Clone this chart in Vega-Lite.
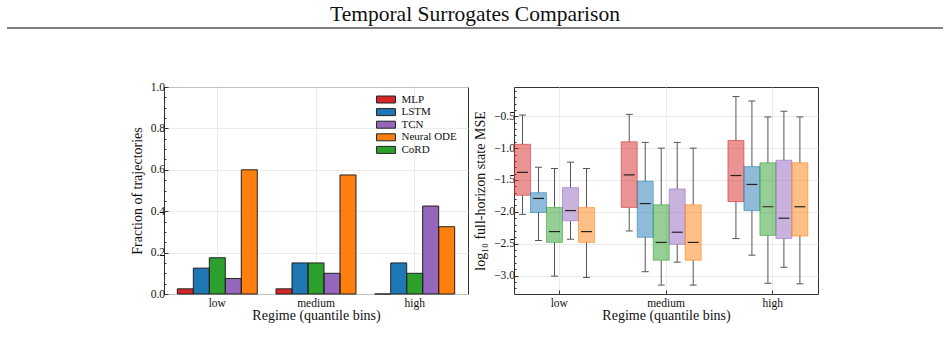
{
  "$schema": "https://vega.github.io/schema/vega-lite/v6.json",
  "background": "white",
  "padding": {"left": 6, "right": 6, "top": 3, "bottom": 5},
  "title": {
    "text": "Temporal Surrogates Comparison",
    "font": "Liberation Serif, serif",
    "fontSize": 21.5,
    "fontWeight": "normal",
    "color": "#111111",
    "anchor": "middle",
    "offset": 2
  },
  "config": {
    "font": "Liberation Serif, serif",
    "view": {"stroke": "#333333", "strokeWidth": 1},
    "axis": {
      "labelFont": "Liberation Serif, serif",
      "titleFont": "Liberation Serif, serif",
      "labelFontSize": 11.5,
      "titleFontSize": 14,
      "titleFontWeight": "normal",
      "labelColor": "#111111",
      "titleColor": "#111111",
      "domain": false,
      "tickSize": -4,
      "tickColor": "#333333",
      "gridColor": "#e6e6e6",
      "gridWidth": 0.8,
      "labelPadding": 3.5,
      "titlePadding": 6
    },
    "axisX": {"labelPadding": 7, "titlePadding": 0},
    "legend": {
      "labelFont": "Liberation Serif, serif",
      "labelFontSize": 11,
      "labelColor": "#111111"
    }
  },
  "spacing": 51,
  "vconcat": [
    {
      "width": 936,
      "height": 1,
      "data": {"values": [{}]},
      "view": {"stroke": null},
      "mark": {"type": "rule", "color": "#000000", "strokeWidth": 1.2},
      "encoding": {
        "y": {"datum": 0, "type": "quantitative", "scale": {"domain": [0, 1]}, "axis": null}
      }
    },
    {
      "spacing": 4,
      "hconcat": [
        {
          "width": 118,
          "height": 207,
          "data": {"values": []},
          "view": {"stroke": null},
          "mark": "point"
        },
        {
          "width": 304,
          "height": 207,
          "data": {
            "values": [
              {"regime": "low", "model": "MLP", "fraction": 0.025},
              {"regime": "low", "model": "LSTM", "fraction": 0.125},
              {"regime": "low", "model": "CoRD", "fraction": 0.175},
              {"regime": "low", "model": "TCN", "fraction": 0.075},
              {"regime": "low", "model": "Neural ODE", "fraction": 0.6},
              {"regime": "medium", "model": "MLP", "fraction": 0.025},
              {"regime": "medium", "model": "LSTM", "fraction": 0.15},
              {"regime": "medium", "model": "CoRD", "fraction": 0.15},
              {"regime": "medium", "model": "TCN", "fraction": 0.1},
              {"regime": "medium", "model": "Neural ODE", "fraction": 0.575},
              {"regime": "high", "model": "MLP", "fraction": 0.0},
              {"regime": "high", "model": "LSTM", "fraction": 0.15},
              {"regime": "high", "model": "CoRD", "fraction": 0.1},
              {"regime": "high", "model": "TCN", "fraction": 0.425},
              {"regime": "high", "model": "Neural ODE", "fraction": 0.325}
            ]
          },
          "encoding": {
            "x": {
              "field": "regime",
              "type": "nominal",
              "sort": ["low", "medium", "high"],
              "scale": {"paddingInner": 0.19, "paddingOuter": 0.135},
              "axis": {"title": "Regime (quantile bins)", "labelAngle": 0, "grid": true}
            },
            "xOffset": {
              "field": "model",
              "type": "nominal",
              "sort": ["MLP", "LSTM", "CoRD", "TCN", "Neural ODE"],
              "scale": {"paddingInner": 0, "paddingOuter": 0}
            }
          },
          "layer": [
            {
              "mark": {"type": "bar", "strokeWidth": 0},
              "encoding": {
                "y": {
                  "field": "fraction",
                  "type": "quantitative",
                  "scale": {"domain": [0, 1], "nice": false},
                  "axis": {
                    "title": "Fraction of trajectories",
                    "values": [0, 0.2, 0.4, 0.6, 0.8, 1.0],
                    "format": ".1f",
                    "grid": true
                  }
                },
                "color": {
                  "field": "model",
                  "type": "nominal",
                  "scale": {
                    "domain": ["MLP", "LSTM", "TCN", "Neural ODE", "CoRD"],
                    "range": ["#d62728", "#1f77b4", "#9467bd", "#ff7f0e", "#2ca02c"]
                  },
                  "legend": {
                    "title": null,
                    "orient": "none",
                    "legendX": 373.5,
                    "legendY": 7,
                    "padding": 0,
                    "symbolType": "M-2.7,-1H2.7V1H-2.7Z",
                    "symbolSize": 49,
                    "symbolStrokeColor": "#222222",
                    "symbolStrokeWidth": 1,
                    "symbolOpacity": 1,
                    "labelOffset": 10,
                    "rowPadding": 0.6
                  }
                }
              }
            },
            {
              "mark": {"type": "bar", "filled": false, "stroke": "#222222", "strokeWidth": 1},
              "encoding": {
                "y": {
                  "field": "fraction",
                  "type": "quantitative",
                  "axis": {
                    "orient": "left",
                    "title": null,
                    "labels": false,
                    "grid": false,
                    "tickSize": -2,
                    "values": [0.05, 0.1, 0.15, 0.25, 0.3, 0.35, 0.45, 0.5, 0.55, 0.65, 0.7, 0.75, 0.85, 0.9, 0.95]
                  }
                }
              }
            }
          ],
          "resolve": {"axis": {"y": "independent"}}
        },
        {
          "width": 304,
          "height": 207,
          "data": {
            "values": [
              {"regime": "low", "model": "MLP", "lo": -2.04, "q1": -1.74, "med": -1.38, "q3": -0.94, "hi": -0.48},
              {"regime": "low", "model": "LSTM", "lo": -2.45, "q1": -2.01, "med": -1.79, "q3": -1.70, "hi": -1.30},
              {"regime": "low", "model": "CoRD", "lo": -3.01, "q1": -2.48, "med": -2.31, "q3": -1.93, "hi": -1.32},
              {"regime": "low", "model": "TCN", "lo": -2.43, "q1": -2.14, "med": -1.98, "q3": -1.62, "hi": -1.22},
              {"regime": "low", "model": "Neural ODE", "lo": -3.03, "q1": -2.48, "med": -2.31, "q3": -1.93, "hi": -1.32},
              {"regime": "medium", "model": "MLP", "lo": -2.30, "q1": -1.93, "med": -1.42, "q3": -0.90, "hi": -0.47},
              {"regime": "medium", "model": "LSTM", "lo": -2.94, "q1": -2.40, "med": -1.87, "q3": -1.52, "hi": -0.91},
              {"regime": "medium", "model": "CoRD", "lo": -3.15, "q1": -2.76, "med": -2.48, "q3": -1.89, "hi": -1.00},
              {"regime": "medium", "model": "TCN", "lo": -2.79, "q1": -2.51, "med": -2.32, "q3": -1.64, "hi": -0.91},
              {"regime": "medium", "model": "Neural ODE", "lo": -3.15, "q1": -2.76, "med": -2.48, "q3": -1.89, "hi": -1.00},
              {"regime": "high", "model": "MLP", "lo": -2.42, "q1": -1.84, "med": -1.43, "q3": -0.88, "hi": -0.19},
              {"regime": "high", "model": "LSTM", "lo": -2.68, "q1": -1.98, "med": -1.57, "q3": -1.29, "hi": -0.26},
              {"regime": "high", "model": "CoRD", "lo": -3.12, "q1": -2.37, "med": -1.92, "q3": -1.23, "hi": -0.51},
              {"regime": "high", "model": "TCN", "lo": -2.87, "q1": -2.42, "med": -2.10, "q3": -1.19, "hi": -0.42},
              {"regime": "high", "model": "Neural ODE", "lo": -3.13, "q1": -2.38, "med": -1.92, "q3": -1.23, "hi": -0.51}
            ]
          },
          "encoding": {
            "x": {
              "field": "regime",
              "type": "nominal",
              "sort": ["low", "medium", "high"],
              "scale": {"paddingInner": 0.161, "paddingOuter": 0.005},
              "axis": {"title": "Regime (quantile bins)", "labelAngle": 0, "grid": true}
            },
            "xOffset": {
              "field": "model",
              "type": "nominal",
              "sort": ["MLP", "LSTM", "CoRD", "TCN", "Neural ODE"],
              "scale": {"paddingInner": 0.4, "paddingOuter": 0.2}
            }
          },
          "layer": [
            {
              "layer": [
                {
                  "mark": {"type": "rule", "color": "#555555", "strokeWidth": 1},
                  "encoding": {
                    "y": {
                      "field": "lo",
                      "type": "quantitative",
                      "scale": {"domain": [-3.29, -0.04], "nice": false, "zero": false},
                      "axis": {
                        "title": "log₁₀ full-horizon state MSE",
                        "values": [-3.0, -2.5, -2.0, -1.5, -1.0, -0.5],
                        "format": ".1f",
                        "labelExpr": "replace(datum.label, '-', '−')",
                        "grid": true
                      }
                    },
                    "y2": {"field": "q1"}
                  }
                },
                {
                  "mark": {"type": "rule", "color": "#555555", "strokeWidth": 1},
                  "encoding": {
                    "y": {"field": "q3", "type": "quantitative", "axis": {"title": "log₁₀ full-horizon state MSE"}},
                    "y2": {"field": "hi"}
                  }
                },
                {
                  "mark": {"type": "tick", "color": "#555555", "size": 7, "thickness": 1, "opacity": 1},
                  "encoding": {
                    "y": {"field": "lo", "type": "quantitative", "axis": {"title": "log₁₀ full-horizon state MSE"}}
                  }
                },
                {
                  "mark": {"type": "tick", "color": "#555555", "size": 7, "thickness": 1, "opacity": 1},
                  "encoding": {
                    "y": {"field": "hi", "type": "quantitative", "axis": {"title": "log₁₀ full-horizon state MSE"}}
                  }
                },
                {
                  "mark": {"type": "bar", "fillOpacity": 0.5, "strokeOpacity": 0.55, "strokeWidth": 1},
                  "encoding": {
                    "y": {"field": "q1", "type": "quantitative", "axis": {"title": "log₁₀ full-horizon state MSE"}},
                    "y2": {"field": "q3"},
                    "color": {
                      "field": "model",
                      "type": "nominal",
                      "scale": {
                        "domain": ["MLP", "LSTM", "CoRD", "TCN", "Neural ODE"],
                        "range": ["#d62728", "#1f77b4", "#2ca02c", "#9467bd", "#ff7f0e"]
                      },
                      "legend": null
                    },
                    "stroke": {
                      "field": "model",
                      "type": "nominal",
                      "scale": {
                        "domain": ["MLP", "LSTM", "CoRD", "TCN", "Neural ODE"],
                        "range": ["#d62728", "#1f77b4", "#2ca02c", "#9467bd", "#ff7f0e"]
                      },
                      "legend": null
                    }
                  }
                }
              ]
            },
            {
              "mark": {"type": "tick", "color": "#222222", "size": 11, "thickness": 1.2, "opacity": 1},
              "encoding": {
                "y": {
                  "field": "med",
                  "type": "quantitative",
                  "axis": {
                    "orient": "left",
                    "title": null,
                    "labels": false,
                    "grid": false,
                    "tickSize": -2,
                    "values": [-3.2, -3.1, -2.9, -2.8, -2.7, -2.6, -2.4, -2.3, -2.2, -2.1, -1.9, -1.8, -1.7, -1.6, -1.4, -1.3, -1.2, -1.1, -0.9, -0.8, -0.7, -0.6, -0.4, -0.3, -0.2, -0.1]
                  }
                }
              }
            }
          ],
          "resolve": {"axis": {"y": "independent"}}
        }
      ]
    }
  ],
  "resolve": {"scale": {"color": "independent"}}
}
